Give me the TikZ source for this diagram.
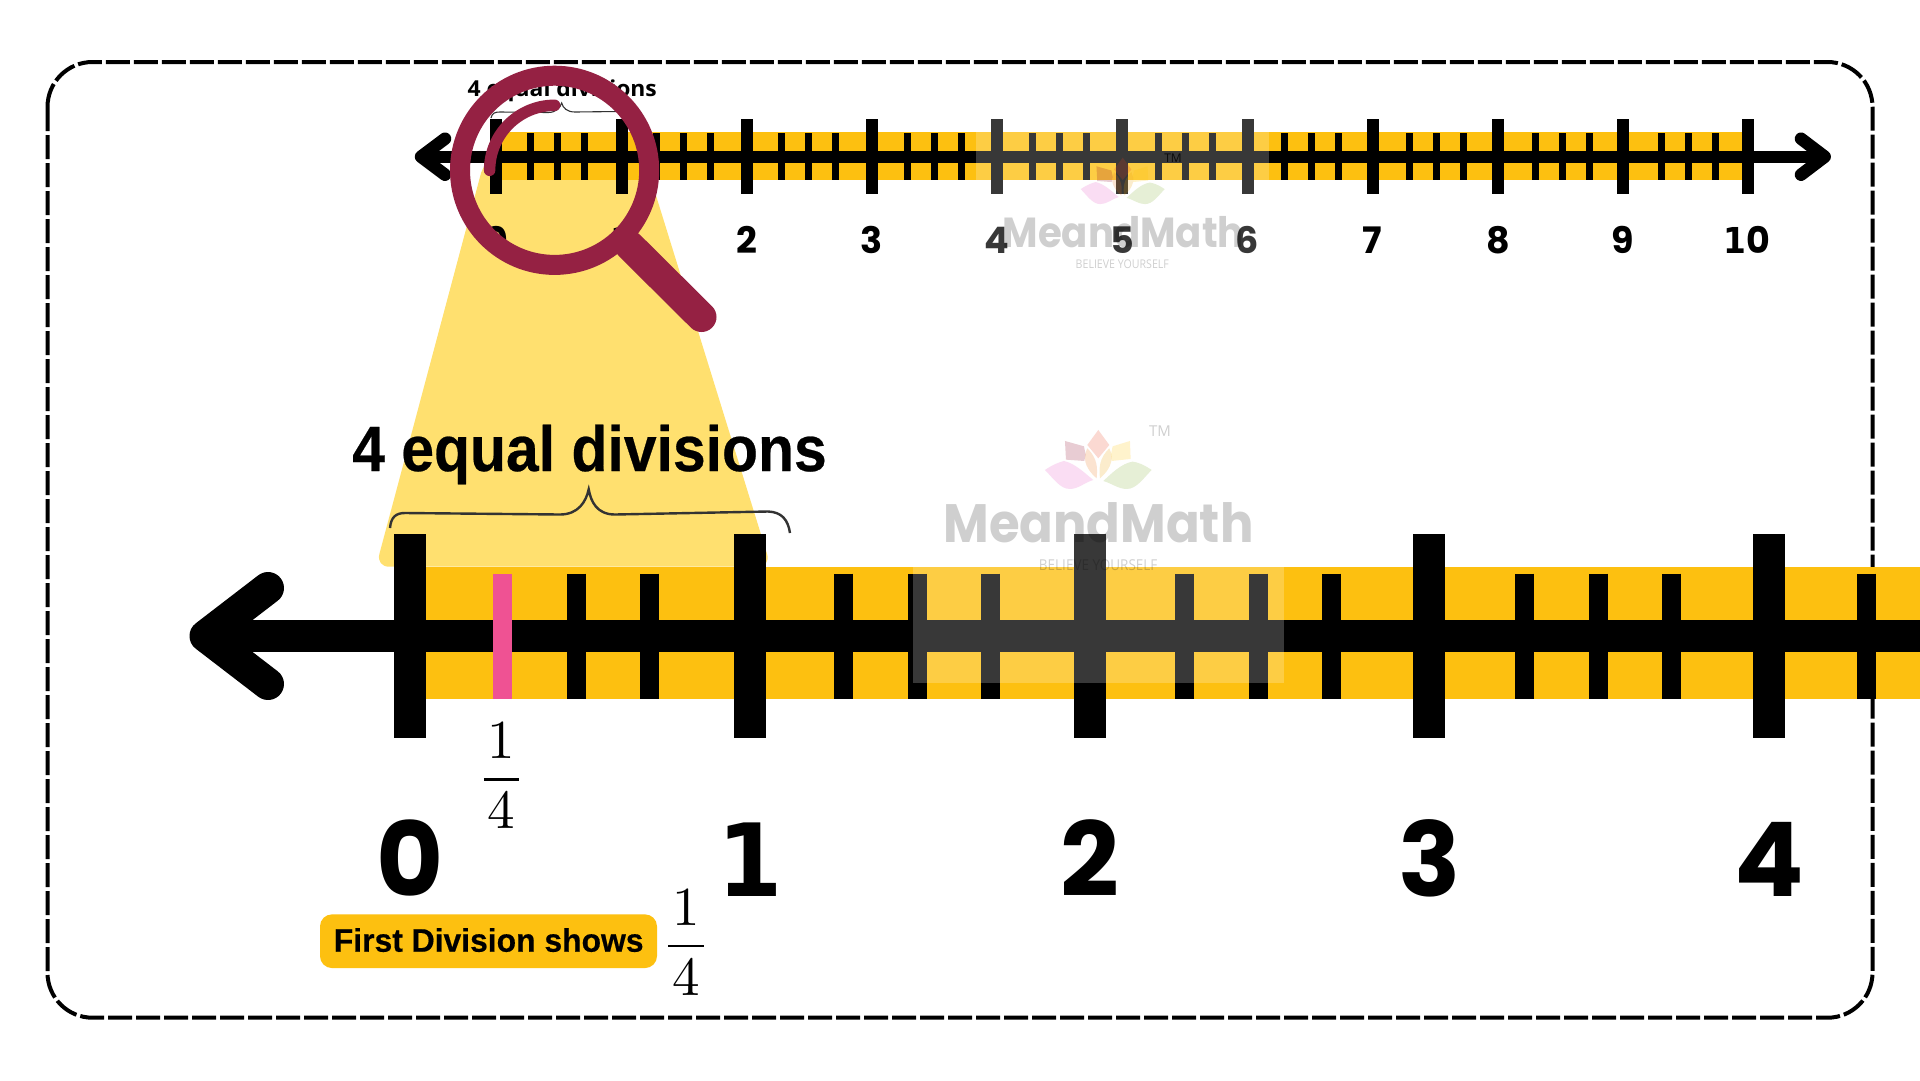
\documentclass[tikz,border=0pt]{standalone}
\usepackage{fontspec}
\usepackage{graphicx}
\newfontfamily\popw{Poppins}
\newfontfamily\dejaf{DejaVu Sans}
\newfontfamily\libf{Liberation Sans}[BoldFeatures={FakeBold=0.4}]
\newfontfamily\openf{Open Sans}
\definecolor{band}{HTML}{FDC010}
\definecolor{beam}{HTML}{FFE06F}
\definecolor{ringc}{HTML}{952143}
\definecolor{pinkc}{HTML}{EF5293}
\tikzset{
  txt/.style={inner sep=0pt,outer sep=0pt,anchor=base},
  petal/.style={fill opacity=.2,draw=none},
  wm/.style={txt,text=black,opacity=.19},
}
\newcommand{\fs}[1]{\fontsize{#1}{#1}\selectfont}
\newcommand{\xs}[2]{\scalebox{#1}[1]{#2}}
\newcommand{\onefrac}{\scalebox{5.5}{$\displaystyle\frac{\hspace{0.7pt}\lower0.5pt\hbox{$1$}\hspace{0.7pt}}{\raise0.4pt\hbox{$4$}}$}}
\newcommand{\lotusmark}[3]{%
\begin{scope}[shift={(#1,#2)},scale=#3/3]
  \fill[petal,fill={rgb,255:red,235;green,65;blue,30}] (0,-145) -- (-33,-100) -- (0,-60) -- (33,-100) -- cycle;
  \fill[petal,fill={rgb,255:red,140;green,0;blue,35}] (-100,-112) -- (-43,-96) -- (-38,-72) -- (-42,-52) -- (-97,-56) -- cycle;
  \fill[petal,fill={rgb,255:red,255;green,195;blue,0}] (95,-112) -- (43,-96) -- (38,-72) -- (40,-52) -- (97,-58) -- cycle;
  \fill[petal,fill={rgb,255:red,230;green,85;blue,195}] (-160,-25) .. controls (-135,-42) and (-118,-48) .. (-103,-52) .. controls (-70,-45) and (-40,-15) .. (-15,5) .. controls (-40,12) and (-60,32) .. (-85,32) .. controls (-115,32) and (-135,0) .. (-160,-25) -- cycle;
  \fill[petal,fill={rgb,255:red,130;green,175;blue,50}] (160,-25) .. controls (135,-42) and (118,-48) .. (103,-50) .. controls (70,-45) and (40,-15) .. (15,8) .. controls (40,15) and (60,32) .. (85,32) .. controls (115,32) and (135,0) .. (160,-25) -- cycle;
  \fill[petal,fill={rgb,255:red,235;green,115;blue,20}] (-33,-90) .. controls (-45,-65) and (-45,-35) .. (-5,0) .. controls (-2,-30) and (-2,-60) .. (-33,-90) -- cycle;
  \fill[petal,fill={rgb,255:red,235;green,160;blue,0}] (33,-90) .. controls (45,-65) and (45,-35) .. (5,0) .. controls (2,-30) and (2,-60) .. (33,-90) -- cycle;
\end{scope}}
\begin{document}
\begin{tikzpicture}[x=1pt,y=-1pt,line cap=butt]
\useasboundingbox (0,0) rectangle (1920,1080);
\fill[white] (0,0) rectangle (1920,1080);
% border
\draw[line width=4pt,rounded corners=45pt,dash pattern=on 24pt off 4pt] (47.5,62) rectangle (1872.5,1017.7);
% beam
\fill[beam,rounded corners=13pt] (484.5,160) -- (645,160) -- (771,566.7) -- (376,566.7) -- cycle;
% small title and brace
\node[txt] (smalltitle) at (562.3,96.7) {\xs{1.04}{\openf\bfseries\fs{22}4 equal divisions}};
\draw[line width=1.1pt,draw=black!80] (491,118) .. controls (492,113) and (495,112) .. (500,112) -- (548,112.5) .. controls (556,112.5) and (560,108) .. (561.7,103) .. controls (563,108) and (567,112) .. (575,112) -- (618,111.5) .. controls (622,112) and (624,114) .. (625,118);
% big title and brace
\node[txt] (bigtitle) at (589.5,471) {\xs{.92}{\libf\bfseries\fs{64}4 equal divisions}};
\draw[line width=2.4pt,draw=black!80] (390,528) .. controls (391,517) and (396,513) .. (405,513) -- (560,514.5) .. controls (578,514.5) and (586,502) .. (588.7,489.3) .. controls (591,502) and (597,514.5) .. (615,514.5) -- (768,511.5) .. controls (782,512) and (788,520) .. (790,533);
% small line
\fill[band] (496,131.5) rectangle (1748,180);
\draw[line width=12pt] (421,156.7) -- (1825,156.7);
\draw[line width=12.5pt,line cap=round,line join=round] (445,138.7) -- (421,156.7) -- (445,174.7);
\draw[line width=12.5pt,line cap=round,line join=round] (1801,138.7) -- (1824.7,156.7) -- (1801,174.7);
\foreach \k in {0,...,10}{
  \pgfmathsetmacro{\tx}{496.3+125.2*\k}
  \draw[line width=12pt] (\tx,119) -- (\tx,194.3);
}
\foreach \k/\lab in {0/0,2/2,3/3,4/4,5/5,6/6,7/7,8/8,9/9}{
  \pgfmathsetmacro{\tx}{496.3+125.2*\k}
  \node[txt] (smalln\k) at (\tx,253) {\popw\bfseries\fs{36.5}\lab};
}
\node[txt] (smalln1) at (621.5,253) {\xs{.92}{\dejaf\bfseries\fs{35.7}1}};
\node[txt] (smalln10) at (1747,253) {\xs{.92}{\dejaf\bfseries\fs{35.7}1}\popw\bfseries\fs{36.5}0};
\foreach \k in {0,...,9}{
  \foreach \j in {0,1,2}{
    \pgfmathsetmacro{\mx}{496.3+125.2*\k+34.2+0.42*\k+27*\j}
    \draw[line width=7pt] (\mx,133.3) -- (\mx,179.7);
  }
}
% big line
\fill[band] (400,567) rectangle (1920,698.7);
\draw[line width=32pt] (205.5,636) -- (1920,636);
\draw[line width=32pt,line cap=round,line join=round] (268,588) -- (205.5,636) -- (268,684);
\foreach \bx in {410.3,750,1089.7,1429.4,1769.3}{
  \draw[line width=32pt] (\bx,534) -- (\bx,738.3);
}
\foreach \mx in {576,649.5,843.6,917,990,1184.5,1258,1331,1524.5,1598,1671.5,1866.5}{
  \draw[line width=19pt] (\mx,573.7) -- (\mx,698.7);
}
\draw[pinkc,line width=19pt] (502.5,573.7) -- (502.5,698.7);
% big numbers
\node[txt] (bign0) at (409.7,896.5) {\popw\bfseries\fs{103}0};
\node[txt] (bign1) at (750,896.5) {\xs{.93}{\dejaf\bfseries\fs{101}1}};
\node[txt] (bign2) at (1089.7,896.5) {\popw\bfseries\fs{103}2};
\node[txt] (bign3) at (1429.4,896.5) {\popw\bfseries\fs{103}3};
\node[txt] (bign4) at (1769.3,896.5) {\popw\bfseries\fs{103}4};
% fractions
\node[txt] (fracone) at (501.5,793.3) {\onefrac};
\node[txt] (fractwo) at (686,959.8) {\onefrac};
% pill
\node[fill=band,rounded corners=12pt,minimum width=337pt,minimum height=53.7pt,inner sep=0pt,anchor=center] (pill) at (488.5,941.2) {};
\node[txt] (pilltext) at (488.7,951.7) {\xs{.977}{\libf\bfseries\fs{32.6}First Division shows}};
% watermarks
\fill[white,opacity=.22] (913,440) rectangle (1284,682.7);
\fill[white,opacity=.22] (976.3,105) rectangle (1269,270);
\lotusmark{1098.3}{478.3}{1}
\lotusmark{1122.7}{195.7}{.7875}
\node[wm] (wmbig) at (1098.5,542) {\xs{.92}{\popw\bfseries\fs{54}MeandMath}};
\node[wm] (wmbigsub) at (1098.2,570) {\xs{.9}{\openf\fs{15}BELIEVE YOURSELF}};
\node[wm] (wmbigtm) at (1160,436) {\openf\fs{15}TM};
\node[wm] (wmsmall) at (1123.3,247) {\xs{.92}{\popw\bfseries\fs{42}MeandMath}};
\node[wm] (wmsmallsub) at (1122.3,268) {\xs{.885}{\openf\fs{12}BELIEVE YOURSELF}};
\node[txt,opacity=.8] (wmsmalltm) at (1173,162) {\openf\fs{12}TM};
% magnifier
\draw[ringc,line width=30pt,line cap=round] (630,246) -- (701.5,317);
\draw[ringc,line width=20pt] (554.6,170.3) circle (94.6pt);
\draw[ringc,line width=11.5pt,line cap=round] (554.6,105.3) .. controls (518.7,105.3) and (489.6,134.4) .. (489.6,170.3);
\end{tikzpicture}
\end{document}
